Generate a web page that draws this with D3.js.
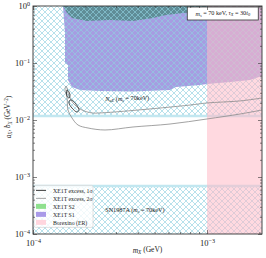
<!DOCTYPE html>
<html>
<head>
<meta charset="utf-8">
<script src="https://cdn.jsdelivr.net/npm/d3@7"></script>
<style>
  body { margin: 0; background: #fff; }
  text { font-family: "Liberation Serif", "DejaVu Serif", serif; fill: #222; }
</style>
</head>
<body>
<div id="chart"></div>
<script>
// axis ranges
var xDomain = [1e-4, 2.07e-3];
var yDomain = [1e-4, 1];
var xTicks = [1e-4, 1e-3];
var yTicks = [1e-4, 1e-3, 1e-2, 1e-1, 1];

// XE1T S1 exclusion (mX GeV, a GeV^-2)
var s1Region = [[1.487e-4, 1], [1.527e-4, 0.336], [1.527e-4, 0.1], [1.589e-4, 0.0922],
  [1.589e-4, 0.0503], [1.676e-4, 0.0379], [1.863e-4, 0.0336], [2.427e-4, 0.0323],
  [3.757e-4, 0.0315], [6.13e-4, 0.0336], [6.635e-4, 0.0379], [9.118e-4, 0.0411],
  [1e-3, 0.0428], [1.356e-3, 0.0464], [1.766e-3, 0.0503], [2.07e-3, 0.0592], [2.07e-3, 1]];

// XE1T S2 exclusion
var s2Region = [[1.487e-4, 1], [1.568e-4, 0.754], [1.676e-4, 0.616], [2.043e-4, 0.546],
  [2.77e-4, 0.568], [3.757e-4, 0.546], [4.895e-4, 0.616], [5.813e-4, 0.695],
  [7.281e-4, 0.754], [1e-3, 0.785], [1.41e-3, 0.851], [2.07e-3, 0.9], [2.07e-3, 1]];

// XE1T excess 2 sigma (open band, right side leaves the plot)
var excess2 = [[2.07e-3, 0.0243], [1.548e-3, 0.0216], [1e-3, 0.0199], [7.986e-4, 0.0183],
  [3.757e-4, 0.0147], [2.427e-4, 0.0133], [2.183e-4, 0.0133], [1.912e-4, 0.01497],
  [1.698e-4, 0.0199], [1.589e-4, 0.0298], [1.568e-4, 0.0364], [1.548e-4, 0.0395],
  [1.527e-4, 0.0336], [1.568e-4, 0.0253], [1.589e-4, 0.01497], [1.676e-4, 0.01084],
  [1.814e-4, 0.00817], [2.071e-4, 0.00724], [2.593e-4, 0.00668], [3.757e-4, 0.00754],
  [6.13e-4, 0.0085], [1e-3, 0.01042], [1.548e-3, 0.01274], [2.07e-3, 0.01497]];

// XE1T excess 1 sigma (two small islands)
var excess1a = [[1.568e-4, 0.0336], [1.61e-4, 0.031], [1.632e-4, 0.0264],
  [1.61e-4, 0.0243], [1.568e-4, 0.0264], [1.558e-4, 0.031]];
var excess1b = [[1.632e-4, 0.0224], [1.698e-4, 0.0216], [1.838e-4, 0.01497],
  [1.79e-4, 0.0138], [1.676e-4, 0.0162], [1.61e-4, 0.0199]];

// SN1987A excluded: above snUpper and below snLower
var snUpper = 1.175e-2;
var snLower = 6.95e-4;
// Borexino (ER) excluded above this mass
var borexinoMin = 1e-3;

var legendNames = ["XE1T excess, 1\u03c3", "XE1T excess, 2\u03c3", "XE1T S2", "XE1T S1", "Borexino (ER)"];

var W = 266, H = 258;
var margin = {top: 6, right: 4, bottom: 24, left: 33};
var width = W - margin.left - margin.right;
var height = H - margin.top - margin.bottom;

var svg = d3.select("#chart").append("svg")
  .attr("width", W).attr("height", H);

var defs = svg.append("defs");
defs.append("clipPath").attr("id", "clip")
  .append("rect").attr("width", width).attr("height", height);
var pat = defs.append("pattern").attr("id", "hatch")
  .attr("patternUnits", "userSpaceOnUse")
  .attr("width", 6).attr("height", 6);
pat.append("path").attr("d", "M0,0L6,6M6,0L0,6M-1,5L1,7M5,-1L7,1")
  .attr("stroke", "#8fd0e0").attr("stroke-width", 0.8).attr("fill", "none");

var g = svg.append("g").attr("transform", "translate(" + margin.left + "," + margin.top + ")");

var x = d3.scaleLog().domain(xDomain).range([0, width]);
var y = d3.scaleLog().domain(yDomain).range([height, 0]);

var line = d3.line().x(function(d) { return x(d[0]); }).y(function(d) { return y(d[1]); });

var plot = g.append("g").attr("clip-path", "url(#clip)");

// fills
plot.append("path").datum(s1Region).attr("d", line).attr("fill", "#a69de2");
plot.append("path").datum(s2Region).attr("d", line).attr("fill", "#5f8d97");

// SN1987A hatch
plot.append("rect").attr("x", 0).attr("width", width)
  .attr("y", 0).attr("height", y(snUpper))
  .attr("fill", "url(#hatch)").attr("opacity", 0.8);
plot.append("rect").attr("x", 0).attr("width", width)
  .attr("y", y(snLower)).attr("height", height - y(snLower))
  .attr("fill", "url(#hatch)").attr("opacity", 0.8);
[snUpper, snLower].forEach(function(v) {
  plot.append("line").attr("x1", 0).attr("x2", width)
    .attr("y1", y(v)).attr("y2", y(v))
    .attr("stroke", "#c2e7f0").attr("stroke-width", 2.5);
});

// Borexino
plot.append("rect").attr("x", x(borexinoMin)).attr("width", width - x(borexinoMin))
  .attr("y", 0).attr("height", height)
  .attr("fill", "#ffb9c6").attr("opacity", 0.55);

// excess contours
plot.append("path").datum(excess2).attr("d", line.curve(d3.curveCatmullRom))
  .attr("fill", "none").attr("stroke", "#8a8a8a").attr("stroke-width", 0.8);
[excess1a, excess1b].forEach(function(c) {
  plot.append("path").datum(c).attr("d", d3.line().curve(d3.curveCatmullRomClosed)
      .x(function(d) { return x(d[0]); }).y(function(d) { return y(d[1]); }))
    .attr("fill", "none").attr("stroke", "#222").attr("stroke-width", 0.8);
});

// region labels
function mathLabel(sel, parts) {
  parts.forEach(function(p) {
    var t = sel.append("tspan").text(p[0]);
    if (p[1] === "i") t.attr("font-style", "italic");
    if (p[1] === "sub") t.attr("font-style", "italic").attr("font-size", "0.7em").attr("dy", "0.25em");
    if (p[1] === "back") t.attr("dy", "-0.25em");
  });
}
var nLab = g.append("text").attr("x", x(2.6e-4)).attr("y", y(0.0215))
  .attr("font-size", 6.2).attr("fill", "#444");
mathLabel(nLab, [["N", "i"], ["\u03b1E", "sub"], [" (", "back"], ["m", "i"], ["s", "sub"], [" = 70keV)", "back"]]);

var snLab = g.append("text").attr("x", x(2.6e-4)).attr("y", y(2.4e-4))
  .attr("font-size", 6.2).attr("fill", "#333");
mathLabel(snLab, [["SN1987A (", ""], ["m", "i"], ["s", "sub"], [" = 70keV)", "back"]]);

// annotation box
var annX = x(7.7e-4), annW = 71;
var ann = g.append("g");
ann.append("rect").attr("x", annX).attr("y", 1)
  .attr("width", annW).attr("height", 13)
  .attr("fill", "#fff").attr("stroke", "#333").attr("stroke-width", 0.8);
var annT = ann.append("text").attr("x", annX + annW / 2).attr("y", 9.8)
  .attr("text-anchor", "middle").attr("font-size", 6.2);
mathLabel(annT, [["m", "i"], ["s", "sub"], [" = 70 keV, ", "back"], ["\u03c4", "i"], ["X", "sub"], [" = 30", "back"], ["t", "i"], ["0", "sub"]]);

// legend
var leg = g.append("g").attr("transform", "translate(1," + (y(1.6e-4) - 37) + ")");
leg.append("rect").attr("width", 59).attr("height", 42).attr("rx", 1.5)
  .attr("fill", "#fff").attr("fill-opacity", 0.8).attr("stroke", "#ccc").attr("stroke-width", 0.6);
legendNames.forEach(function(name, i) {
  var row = leg.append("g").attr("transform", "translate(2," + (5 + i * 8) + ")");
  if (i < 2) {
    row.append("line").attr("x1", 0).attr("x2", 10).attr("y1", 0).attr("y2", 0)
      .attr("stroke", i === 0 ? "#222" : "#999").attr("stroke-width", 0.9);
  } else {
    row.append("rect").attr("x", 0).attr("y", -2.5).attr("width", 10).attr("height", 5)
      .attr("fill", ["#8ee08e", "#a99ae8", "#ffd6de"][i - 2]);
  }
  row.append("text").attr("x", 17).attr("y", 2.2).attr("font-size", 5.8).attr("fill", "#333").text(name);
});

// axes with inward ticks on all sides
function minorX() {
  var out = [];
  [1e-4, 1e-3].forEach(function(d) { for (var k = 2; k <= 9; k++) if (d * k <= xDomain[1]) out.push(d * k); });
  return out;
}
function minorY() {
  var out = [];
  [1e-4, 1e-3, 1e-2, 1e-1].forEach(function(d) { for (var k = 2; k <= 9; k++) out.push(d * k); });
  return out;
}
// "10" with a raised exponent
function powLabel(sel) {
  sel.each(function(d) {
    var t = d3.select(this).text(null);
    var e = Math.round(Math.log10(d));
    t.append("tspan").text("10");
    t.append("tspan").attr("font-size", "0.72em").attr("dy", "-0.55em")
      .text(e === 0 ? "0" : "\u2212" + Math.abs(e));
  });
}

var axes = g.append("g").attr("color", "#333");
axes.append("g").attr("transform", "translate(0," + height + ")")
  .call(d3.axisBottom(x).tickValues(xTicks).tickSize(-4).tickPadding(6))
  .selectAll(".tick text").call(powLabel);
axes.append("g").attr("transform", "translate(0," + height + ")")
  .call(d3.axisBottom(x).tickValues(minorX()).tickSize(-2).tickFormat(""));
axes.append("g").call(d3.axisTop(x).tickValues(xTicks).tickSize(-4).tickFormat(""));
axes.append("g").call(d3.axisTop(x).tickValues(minorX()).tickSize(-2).tickFormat(""));
axes.append("g").call(d3.axisLeft(y).tickValues(yTicks).tickSize(-4).tickPadding(3))
  .selectAll(".tick text").call(powLabel);
axes.append("g").call(d3.axisLeft(y).tickValues(minorY()).tickSize(-2).tickFormat(""));
axes.append("g").attr("transform", "translate(" + width + ",0)")
  .call(d3.axisRight(y).tickValues(yTicks).tickSize(-4).tickFormat(""));
axes.append("g").attr("transform", "translate(" + width + ",0)")
  .call(d3.axisRight(y).tickValues(minorY()).tickSize(-2).tickFormat(""));
axes.selectAll("path.domain").remove();
axes.selectAll(".tick text").attr("font-family", "Liberation Serif, serif").attr("font-size", 8.5).attr("fill", "#222");
axes.selectAll(".tick line").attr("stroke-width", 0.6);

g.append("rect").attr("width", width).attr("height", height)
  .attr("fill", "none").attr("stroke", "#333").attr("stroke-width", 0.9);

// axis titles
var xt = svg.append("text").attr("x", margin.left + width / 2).attr("y", 253)
  .attr("text-anchor", "middle").attr("font-size", 7.5);
mathLabel(xt, [["m", "i"], ["X", "sub"], [" (GeV)", "back"]]);

var yt = svg.append("text").attr("transform", "translate(11,117) rotate(-90)")
  .attr("text-anchor", "middle").attr("font-size", 7.2);
yt.append("tspan").attr("font-style", "italic").text("a");
yt.append("tspan").attr("font-style", "italic").attr("font-size", "0.7em").attr("dy", "0.25em").text("X");
yt.append("tspan").attr("dy", "-0.25em").text(", ");
yt.append("tspan").attr("font-style", "italic").text("b");
yt.append("tspan").attr("font-style", "italic").attr("font-size", "0.7em").attr("dy", "0.25em").text("X");
yt.append("tspan").attr("dy", "-0.25em").text(" (GeV");
yt.append("tspan").attr("font-size", "0.7em").attr("dy", "-0.4em").text("\u22122");
yt.append("tspan").attr("dy", "0.4em").text(")");
</script>
</body>
</html>
